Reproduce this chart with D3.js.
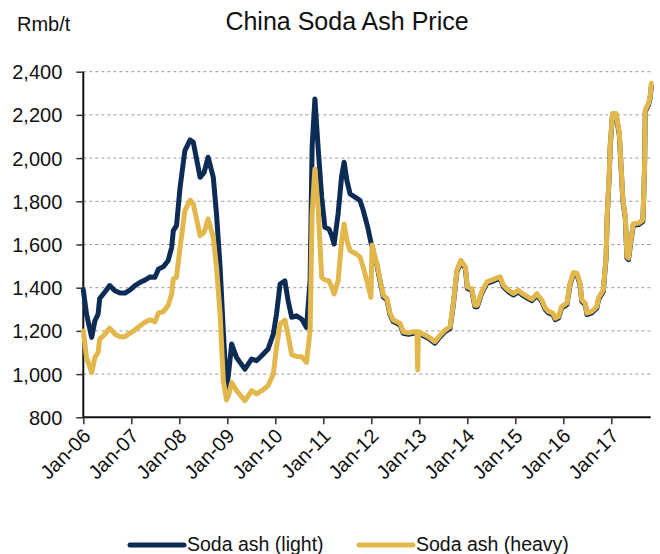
<!DOCTYPE html>
<html><head><meta charset="utf-8">
<script src="https://cdn.jsdelivr.net/npm/d3@7"></script>
<style>
body{margin:0;background:#fff;}
svg text{font-family:"Liberation Sans",Arial,sans-serif;fill:#111;}
</style></head>
<body><svg id="c" width="660" height="554"></svg>
<script>
// months since Jan-2006
const months = [0,0.8,2.1,2.9,3.7,4.1,5.4,6.6,7.9,9.2,10.4,11.7,12.9,14.2,15.4,16.7,17.9,18.8,20,21.2,22.1,22.5,23.3,24.2,25.4,26.7,27.5,29.2,30.2,31.2,32.5,33.3,34.2,35,35.8,36.3,37.1,38.3,40.4,42.1,43.3,44.6,46.2,47.5,48.3,49.2,50.4,51.2,52.1,53.3,54.6,55.8,56.7,57.2,57.9,58.7,59.6,60.4,61.4,62.1,62.7,63.7,64.6,65.2,65.9,66.7,68.3,69.2,70,71.1,71.9,72.2,72.9,73.4,74.2,75,75.9,76.7,77.5,78.4,79.2,80,81.3,82.5,83.4,83.6,83.8,85,86.3,87.9,89.2,90.5,91.7,92.5,93.4,94.4,95.5,96,97.1,97.9,98.5,99.6,100.9,102.1,103,104.2,105,106.3,107.5,108.8,109.6,110.9,112.1,113.4,114.6,115.5,116.3,117.4,118,118.8,119.6,120.9,121.7,122.5,123.4,124.2,124.6,125.5,125.9,127.1,128.4,128.8,130,130.7,131,131.5,131.7,132.3,133.2,134,134.5,134.9,135.5,135.9,136.3,136.9,137.5,138.8,139.9,140.3,140.5,141.3,141.7,142];
const lightValues = [1390,1278,1170,1247,1278,1350,1380,1410,1386,1375,1375,1390,1410,1425,1435,1450,1448,1487,1497,1525,1587,1664,1687,1865,2035,2084,2073,1911,1934,2004,1911,1741,1494,1200,932,1000,1139,1077,1023,1070,1062,1085,1116,1185,1278,1417,1432,1340,1263,1270,1255,1216,1432,2050,2274,2050,1818,1680,1672,1641,1602,1741,1919,1981,1896,1834,1815,1803,1757,1680,1610,1592,1535,1505,1428,1358,1343,1274,1243,1235,1227,1189,1184,1189,1189,1189,1189,1178,1166,1143,1173,1197,1212,1320,1474,1520,1489,1397,1389,1312,1312,1374,1420,1428,1435,1443,1405,1381,1366,1381,1368,1353,1340,1365,1337,1299,1283,1275,1252,1260,1306,1322,1414,1463,1460,1414,1337,1322,1275,1283,1306,1345,1383,1538,1738,1923,2046,2200,2200,2108,1938,1800,1723,1538,1530,1615,1689,1692,1707,1938,2216,2247,2277,2330];
const heavyValues = [1200,1077,1008,1077,1100,1162,1185,1213,1185,1173,1173,1190,1204,1224,1240,1252,1242,1283,1289,1317,1371,1440,1448,1587,1757,1806,1788,1641,1656,1718,1633,1494,1278,970,880,900,961,923,877,923,908,923,946,1000,1124,1232,1250,1180,1090,1082,1080,1054,1201,1741,1950,1772,1448,1436,1432,1402,1371,1432,1618,1695,1618,1571,1556,1541,1494,1417,1355,1598,1543,1512,1435,1365,1350,1281,1250,1242,1234,1196,1191,1196,1196,1019,1196,1185,1173,1150,1180,1204,1219,1327,1481,1527,1496,1404,1396,1319,1319,1381,1427,1435,1442,1450,1412,1388,1373,1388,1375,1360,1347,1372,1344,1306,1290,1282,1259,1267,1313,1329,1421,1470,1467,1421,1344,1329,1282,1290,1313,1352,1390,1545,1745,1930,2053,2207,2207,2115,1945,1807,1730,1545,1537,1622,1696,1699,1714,1945,2223,2254,2284,2346];
const yTicks = [800,1000,1200,1400,1600,1800,2000,2200,2400];
const xTickMonths = [0,12,24,36,48,60,72,84,96,108,120,132];
const xTickLabels = ["Jan-06","Jan-07","Jan-08","Jan-09","Jan-10","Jan-11","Jan-12","Jan-13","Jan-14","Jan-15","Jan-16","Jan-17"];
const seriesNames = ["Soda ash (light)","Soda ash (heavy)"];
const colors = ["#0c2c56","#e2b84c"];

const svg = d3.select("#c");
const x = d3.scaleLinear().domain([0,141.85]).range([83.3,650.7]);
const y = d3.scaleLinear().domain([800,2400]).range([417.3,71.7]);
const FONT = '"Liberation Sans",Arial,sans-serif';

// gridlines
svg.append("g").selectAll("line").data(yTicks.filter(d=>d>800)).join("line")
  .attr("x1",x(0)).attr("x2",x(141.85)).attr("y1",d=>y(d)).attr("y2",d=>y(d))
  .attr("stroke","#9a9a9a").attr("stroke-width",1).attr("stroke-dasharray","3,3");

// y axis
const yAxis = svg.append("g").attr("transform",`translate(${x(0)},0)`)
  .call(d3.axisLeft(y).tickValues(yTicks).tickSize(7).tickPadding(14).tickFormat(d3.format(",")));
yAxis.select(".domain").attr("stroke","#111").attr("stroke-width",2).attr("d",`M0,${y(800)}V${y(2400)}`);
yAxis.selectAll(".tick line").attr("stroke","#333").attr("stroke-width",1.5);
yAxis.selectAll("text").attr("font-size",20).attr("dy","0.35em").style("font-family",FONT);

// x axis
const xAxis = svg.append("g").attr("transform",`translate(0,${y(800)})`)
  .call(d3.axisBottom(x).tickValues(xTickMonths).tickSize(7).tickFormat((d,i)=>xTickLabels[i]));
xAxis.select(".domain").attr("stroke","#111").attr("stroke-width",2).attr("d",`M${x(0)},0H${x(141.85)}`);
xAxis.selectAll(".tick line").attr("stroke","#333").attr("stroke-width",1.5);
xAxis.selectAll("text").attr("font-size",20).attr("text-anchor","end")
  .attr("transform","translate(3,15) rotate(-45)").attr("dy","0.35em").attr("y",0)
  .style("font-family",FONT);

// lines
const line = d3.line().x((d,i)=>x(months[i])).y(d=>y(d)).curve(d3.curveLinear);
[lightValues,heavyValues].forEach((vals,k)=>{
  svg.append("path").attr("d",line(vals)).attr("fill","none").attr("stroke",colors[k])
    .attr("stroke-width",5).attr("stroke-linejoin","round").attr("stroke-linecap","round");
});

// titles
svg.append("text").attr("x",347).attr("y",30).attr("text-anchor","middle").attr("font-size",25).text("China Soda Ash Price");
svg.append("text").attr("x",17).attr("y",31).attr("font-size",20).text("Rmb/t");

// legend
const lg = svg.append("g");
const legX = [130,359];
seriesNames.forEach((n,k)=>{
  lg.append("line").attr("x1",legX[k]).attr("x2",legX[k]+54).attr("y1",545).attr("y2",545)
    .attr("stroke",colors[k]).attr("stroke-width",5).attr("stroke-linecap","round");
  lg.append("text").attr("x",legX[k]+57).attr("y",551).attr("font-size",19.5).text(n);
});
</script></body></html>
